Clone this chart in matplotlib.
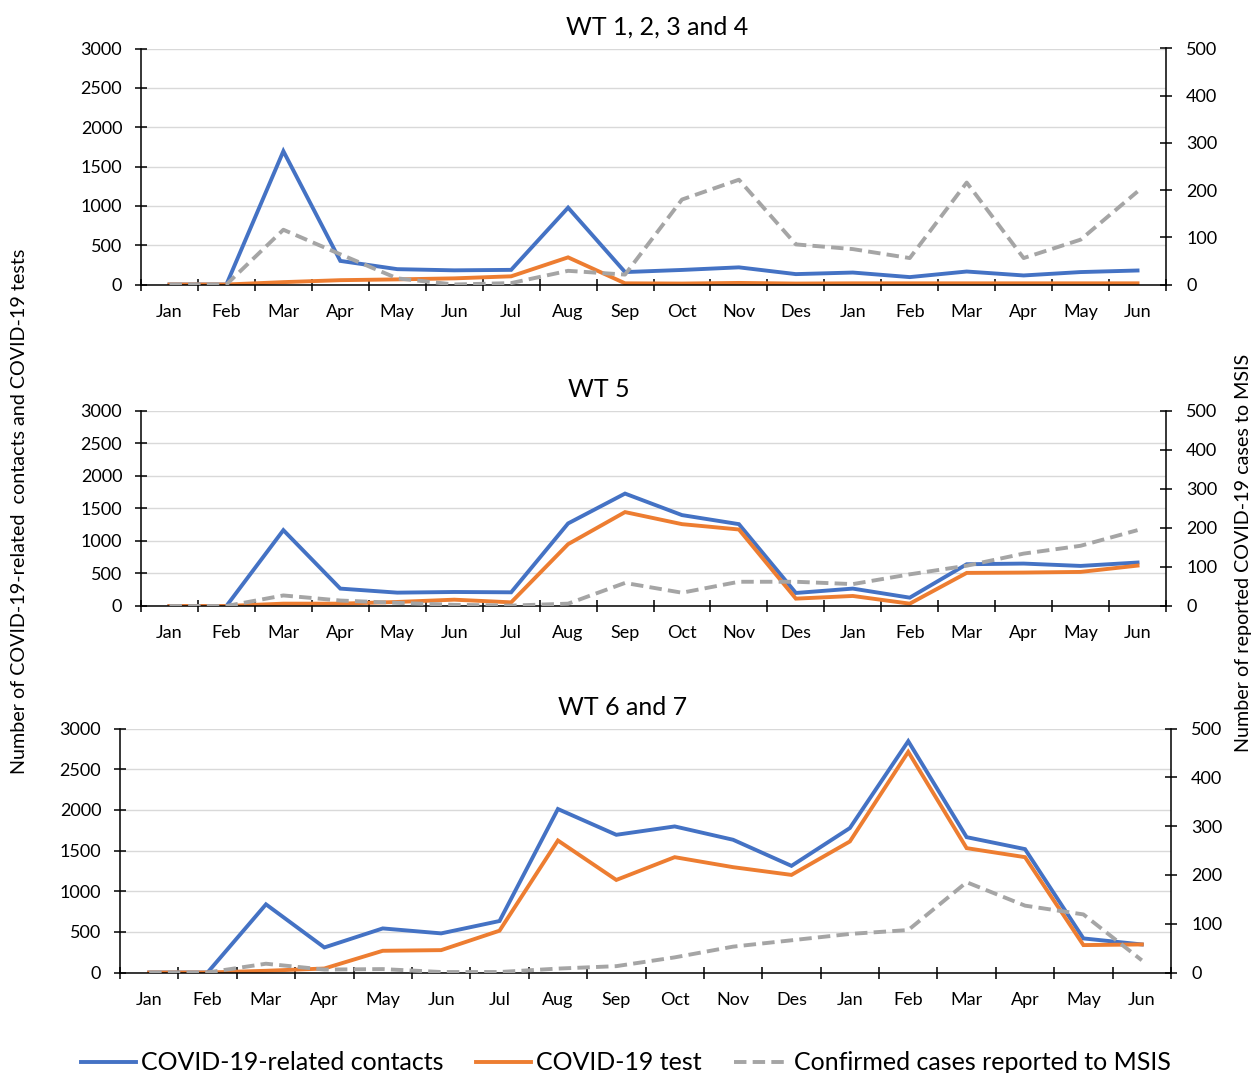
import matplotlib
matplotlib.use('Agg')
import matplotlib.pyplot as plt
from matplotlib.lines import Line2D
import numpy as np

plt.rcParams['font.family'] = ['Lato', 'DejaVu Sans']

months = ['Jan', 'Feb', 'Mar', 'Apr', 'May', 'Jun', 'Jul', 'Aug', 'Sep', 'Oct',
          'Nov', 'Des', 'Jan', 'Feb', 'Mar', 'Apr', 'May', 'Jun']

titles = ['WT 1, 2, 3 and 4', 'WT 5', 'WT 6 and 7']

# COVID-19-related contacts (left axis)
contacts_wt1234 = [0, 0, 1695, 300, 195, 180, 186, 977, 158, 185, 218, 132, 152, 94, 165, 115, 158, 178]
contacts_wt5 = [0, 0, 1164, 267, 205, 215, 210, 1267, 1725, 1395, 1256, 200, 267, 128, 641, 651, 615, 667]
contacts_wt67 = [0, 0, 838, 308, 542, 481, 633, 2010, 1693, 1796, 1632, 1311, 1776, 2844, 1664, 1517, 419, 345]

# COVID-19 test (left axis)
tests_wt1234 = [0, 0, 30, 55, 65, 78, 104, 345, 15, 12, 20, 12, 15, 15, 15, 15, 15, 15]
tests_wt5 = [0, 0, 36, 36, 62, 97, 56, 949, 1441, 1256, 1174, 113, 154, 36, 508, 513, 523, 620]
tests_wt67 = [0, 0, 21, 49, 267, 275, 514, 1623, 1138, 1418, 1295, 1200, 1611, 2713, 1529, 1418, 337, 345]

# Confirmed cases reported to MSIS (right axis)
cases_wt1234 = [0, 0, 116, 64, 13, 0, 3, 29, 21, 180, 222, 85, 75, 56, 216, 56, 95, 197]
cases_wt5 = [0, 0, 27, 14, 8, 3, 1, 6, 59, 34, 62, 62, 56, 81, 103, 134, 154, 194]
cases_wt67 = [0, 0, 18, 6, 7, 1, 1, 8, 13, 31, 53, 66, 79, 87, 185, 137, 119, 25]

contacts = [contacts_wt1234, contacts_wt5, contacts_wt67]
tests = [tests_wt1234, tests_wt5, tests_wt67]
cases = [cases_wt1234, cases_wt5, cases_wt67]

blue = '#4472C4'
orange = '#ED7D31'
grey = '#A5A5A5'

W, H = 1257, 1073
fig = plt.figure(figsize=(W / 100, H / 100), dpi=100)

# axes boxes in pixels: left, top, right, bottom
boxes = [(141, 48.5, 1166, 284.5), (141, 410.5, 1166, 606), (120, 728.5, 1171, 972.5)]
title_x = [657, 599, 623]

x = np.arange(len(months))
for i in range(3):
    l, t, r, b = boxes[i]
    ax = fig.add_axes([l / W, 1 - b / H, (r - l) / W, (b - t) / H])
    ax2 = ax.twinx()

    ax.plot(x, contacts[i], color=blue, lw=2.8, solid_joinstyle='miter')
    ax.plot(x, tests[i], color=orange, lw=2.8, solid_joinstyle='miter')
    ax2.plot(x, cases[i], color=grey, lw=2.8, dashes=(3.2, 1.6))

    ax.set_xlim(-0.5, len(months) - 0.5)
    ax.set_ylim(0, 3000)
    ax2.set_ylim(0, 500)
    ax.set_yticks(np.arange(0, 3001, 500))
    ax2.set_yticks(np.arange(0, 501, 100))
    ax.grid(axis='y', color='#D9D9D9', lw=1.0)
    ax.set_axisbelow(True)

    ax.set_xticks(x)
    ax.set_xticklabels(months)
    ax.set_xticks(np.arange(-0.5, len(months)), minor=True)
    ax.tick_params(axis='x', which='major', length=0, pad=14, labelsize=13)
    ax.tick_params(axis='x', which='minor', length=9, width=1.1, direction='inout')
    ax.tick_params(axis='y', length=9, width=1.1, direction='inout', pad=9, labelsize=13)
    ax2.tick_params(axis='y', length=9, width=1.1, direction='inout', pad=10, labelsize=13)

    for a in (ax, ax2):
        a.spines['top'].set_visible(False)
        for s in a.spines.values():
            s.set_linewidth(1.1)
    ax.spines['right'].set_visible(False)
    ax2.spines['left'].set_visible(False)
    ax2.spines['bottom'].set_visible(False)

    fig.text(title_x[i] / W, 1 - (t - 21) / H, titles[i], ha='center', va='center', fontsize=18)

fig.text(20 / W, 1 - 511 / H, 'Number of COVID-19-related  contacts and COVID-19 tests',
         rotation=90, ha='center', va='center', fontsize=14.2)
fig.text(1243 / W, 1 - 553 / H, 'Number of reported COVID-19 cases to MSIS',
         rotation=90, ha='center', va='center', fontsize=14.2)

handles = [Line2D([], [], color=blue, lw=2.8),
           Line2D([], [], color=orange, lw=2.8),
           Line2D([], [], color=grey, lw=2.8, dashes=(3.2, 1.6))]
labels = ['COVID-19-related contacts', 'COVID-19 test', 'Confirmed cases reported to MSIS']
fig.legend(handles, labels, loc='center', bbox_to_anchor=(626 / W, 1 - 1063 / H), ncol=3,
           frameon=False, fontsize=18, handlelength=2.2, handletextpad=0.2,
           columnspacing=1.3, borderaxespad=0, borderpad=0)

fig.savefig('out.png', dpi=100)
